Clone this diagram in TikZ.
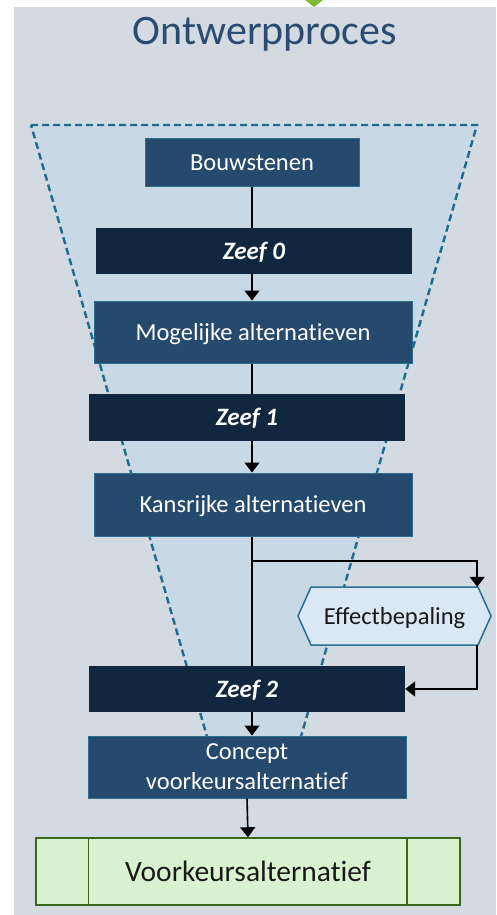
\documentclass[tikz,border=0pt]{standalone}
\usepackage{fontspec}
\setmainfont{Carlito}[Ligatures=NoCommon]
\usetikzlibrary{arrows.meta}
\definecolor{bgc}{HTML}{D3DAE2}
\definecolor{funnelc}{HTML}{C9D8E5}
\definecolor{dashc}{HTML}{1F6B8C}
\definecolor{boxc}{HTML}{264A6E}
\definecolor{boxline}{HTML}{2A6F90}
\definecolor{zeefc}{HTML}{10273F}
\definecolor{titlec}{HTML}{2B4C70}
\definecolor{effc}{HTML}{DAE8F6}
\definecolor{greenc}{HTML}{D9F2D0}
\definecolor{greenl}{HTML}{38661F}
\definecolor{logoc}{HTML}{7DBB3A}
\tikzset{
  stagebox/.style={draw=boxline, line width=1pt, fill=boxc, text=white,
    font=\fontsize{24.5}{30}\selectfont, inner sep=0pt,
    text height=16pt, text depth=0pt},
  zeefbox/.style={fill=zeefc, text=white, inner sep=0pt,
    font=\fontsize{25}{30}\selectfont\bfseries\itshape,
    text height=16pt, text depth=0pt},
  conn/.style={black, line width=1.6pt},
  arr/.style={conn, -{Triangle[width=15pt,length=10pt]}},
}
\begin{document}
\begin{tikzpicture}[x=1pt,y=-1pt]
\useasboundingbox (0,0) rectangle (496,915);
% background
\fill[bgc] (14,7) rectangle (496,915);
\fill[logoc] (305,0) -- (323,0) -- (314,7) -- cycle;
% title
\node[text=titlec, font=\fontsize{42}{50}\selectfont, anchor=base] (title) at (265,45) {Ontwerpproces};
% funnel
\fill[funnelc] (31,125) -- (477,125) -- (300,740) -- (208,740) -- cycle;
\draw[dashc, line width=2.4pt, dash pattern=on 7pt off 4pt] (31,125) -- (477,125) -- (300,740) -- (208,740) -- cycle;
% stage boxes
\node[stagebox, minimum width=214pt, minimum height=48pt] (bouw) at (252,162) {Bouwstenen};
\node[zeefbox, minimum width=316pt, minimum height=46pt] (z0) at (254,251) {Zeef 0};
\node[stagebox, minimum width=318pt, minimum height=62pt] (mog) at (253,332) {Mogelijke alternatieven};
\node[zeefbox, minimum width=316pt, minimum height=47pt] (z1) at (247,417.5) {Zeef 1};
\node[stagebox, minimum width=318pt, minimum height=63pt] (kans) at (253,504.5) {Kansrijke alternatieven};
\node[zeefbox, minimum width=316pt, minimum height=46pt] (z2) at (247,689) {Zeef 2};
\node[draw=boxline, line width=1pt, fill=boxc, text=white, font=\fontsize{24.5}{30}\selectfont,
  inner sep=0pt, align=center, minimum width=318pt, minimum height=62pt] (conc) at (247,767) {Concept\\voorkeursalternatief};
% effect hexagon
\filldraw[fill=effc, draw=boxline, line width=1.5pt]
  (298,616) -- (311,587) -- (478,587) -- (491,616) -- (478,645) -- (311,645) -- cycle;
\node[inner sep=0pt, minimum width=193pt, minimum height=58pt, text=black!90,
  font=\fontsize{24.5}{30}\selectfont, text height=16pt, text depth=0pt] (eff) at (394.5,616) {Effectbepaling};
% final box
\node[draw=greenl, line width=1.5pt, fill=greenc, minimum width=424pt, minimum height=67pt,
  inner sep=0pt, font=\fontsize{29.5}{34}\selectfont, text=black!90,
  text height=19pt, text depth=0pt] (vk) at (248,871.5) {Voorkeursalternatief};
\draw[greenl, line width=1.5pt] ([xshift=53pt]vk.north west) -- ([xshift=53pt]vk.south west);
\draw[greenl, line width=1.5pt] ([xshift=-54pt]vk.north east) -- ([xshift=-54pt]vk.south east);
% connectors
\coordinate (br) at (252,561);
\draw[conn] (bouw.south) -- (bouw.south |- z0.north);
\draw[arr] (bouw.south |- z0.south) -- (bouw.south |- mog.north);
\draw[conn] (bouw.south |- mog.south) -- (bouw.south |- z1.north);
\draw[arr] (bouw.south |- z1.south) -- (bouw.south |- kans.north);
\draw[conn] (bouw.south |- kans.south) -- (bouw.south |- z2.north);
\draw[arr] (br) -| ([xshift=-14pt]eff.north east);
\draw[arr] ([xshift=-14pt]eff.south east) |- (z2.east);
\draw[arr] (bouw.south |- z2.south) -- (bouw.south |- conc.north);
\draw[arr] (conc.south) -- (vk.north);
\end{tikzpicture}
\end{document}
